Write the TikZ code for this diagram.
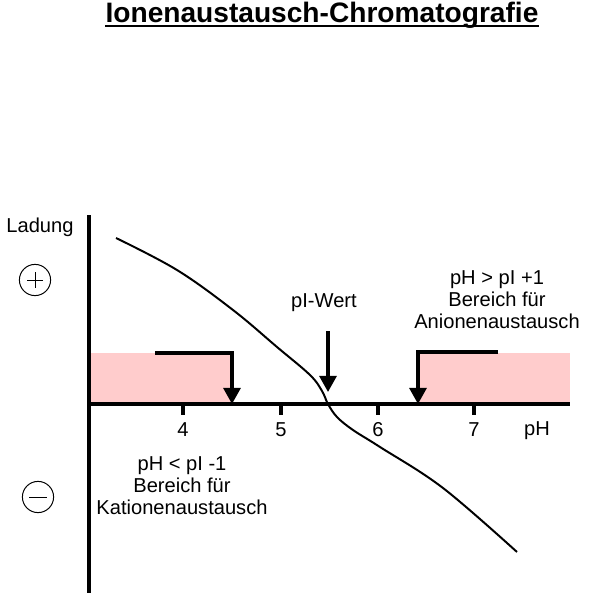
\documentclass[tikz,border=0pt]{standalone}
\usepackage{fontspec}
\setmainfont{Liberation Sans}
\usepackage{tikz}
\usepackage{xcolor}
\usetikzlibrary{positioning,calc,arrows.meta}
\definecolor{rosa}{HTML}{FFCCCC}
\newcommand{\tnode}[3]{\node [txt] (#1) at (#2) {#3}}
\tikzset{
  txt/.style={font=\fontsize{14.3}{15.6}\selectfont, inner sep=0pt, anchor=base},
  block/.style={txt, align=center, anchor=north},
  axis/.style={line width=2.6pt},
  tick/.style={line width=2.6pt},
  bracket/.style={line width=2.3pt, -{Triangle[length=11.4pt, width=12pt]}},
  charge/.style={circle, draw, line width=0.7pt, minimum size=0.78cm, inner sep=0pt},
  curve/.style={line width=1.4pt, line join=round}
}

\begin{document}
\begin{tikzpicture}[x=0.025cm, y=-0.025cm]
\useasboundingbox (0,0) rectangle (600,600);

\node [txt, font=\bfseries\fontsize{20}{22}\selectfont] (TITLE) at (322,22) {Ionenaustausch-Chromatografie};
\draw[line width=1.5pt] ($(TITLE.base west)+(0,4)$) -- ($(TITLE.base east)+(0,4)$);

% Bereiche
\fill[rosa] (91,353) rectangle (232,404);
\fill[rosa] (418,353) rectangle (570,404);

% Achsen
\coordinate (O) at (89,404);
\coordinate (YTOP) at (89,215);
\coordinate (YBOT) at (89,593);
\coordinate (XEND) at (570,404);
\draw[axis] (YTOP) -- (YBOT);
\draw[axis] (O) -- (XEND);

\tnode{LAD}{40,232}{Ladung};
\tnode{PH}{537,435}{pH};

\coordinate (K4) at (183,404);
\coordinate (K5) at (281,404);
\coordinate (K6) at (378,404);
\coordinate (K7) at (474,404);
\draw[tick] (K4) -- +(0,11);
\draw[tick] (K5) -- +(0,11);
\draw[tick] (K6) -- +(0,11);
\draw[tick] (K7) -- +(0,11);
\tnode{T4}{183,436}{4};
\tnode{T5}{281,436}{5};
\tnode{T6}{378,436}{6};
\tnode{T7}{474,436}{7};

% Ladungssymbole
\node [charge] (PLUS) at (35,280) {};
\draw[line width=0.7pt] ($(PLUS.center)+(-8,0)$) -- ($(PLUS.center)+(8,0)$);
\draw[line width=0.7pt] ($(PLUS.center)+(0,-8)$) -- ($(PLUS.center)+(0,8)$);
\node [charge] (MINUS) at (38,497) {};
\draw[line width=0.7pt] ($(MINUS.center)+(-9,0)$) -- ($(MINUS.center)+(9,0)$);

% Kurve
\draw[curve] plot[smooth, tension=0.6] coordinates {(116,238) (177,270) (233,310) (277,347) (310,375) (322,391) (328,404) (337,417) (353,430) (380,447) (443,488) (517,552)};

% Pfeile
\coordinate (L1) at (155,353);
\coordinate (L2) at (232,404);
\draw[bracket] (L1) -| (L2);
\coordinate (R1) at (498,352);
\coordinate (R2) at (418,404);
\draw[bracket] (R1) -| (R2);

\tnode{PIW}{324,307}{pI-Wert};
\coordinate (PIA) at (328,331);
\coordinate (PIB) at (328,392);
\draw[bracket] (PIA) -- (PIB);

\node [block] (ANI) at (497,270.5) {pH > pI +1\\Bereich für\\Anionenaustausch};
\node [block] (KAT) at (182,456.5) {pH < pI -1\\Bereich für\\Kationenaustausch};

\end{tikzpicture}
\end{document}
